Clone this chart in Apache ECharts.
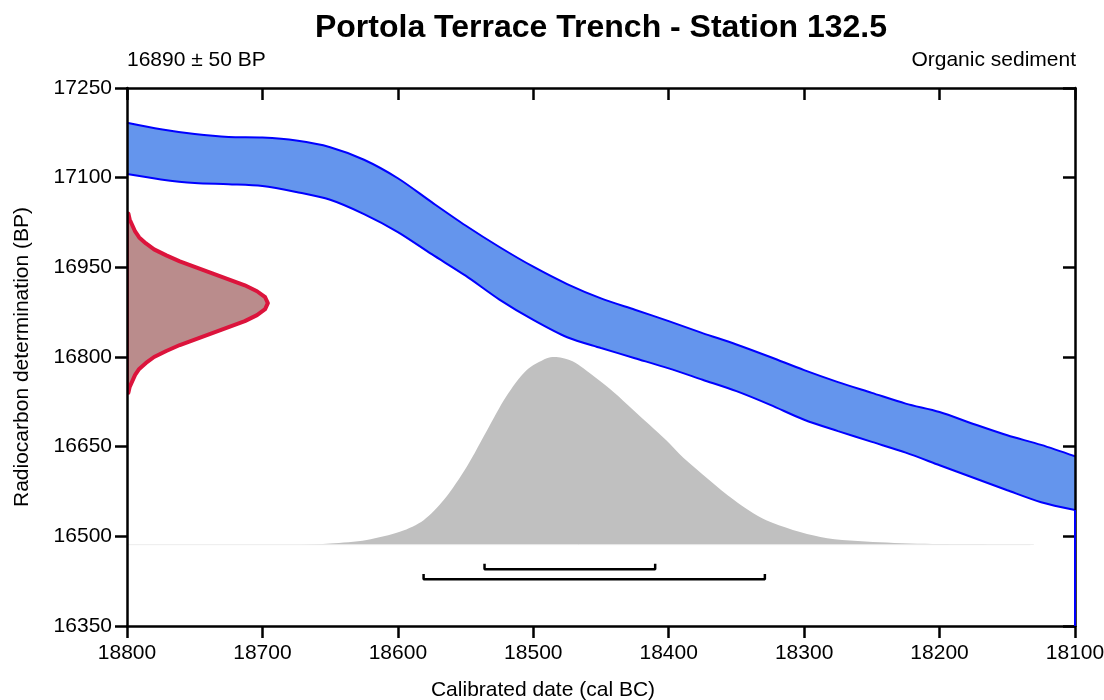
<!DOCTYPE html>
<html>
<head>
<meta charset="utf-8">
<script src="https://cdn.jsdelivr.net/npm/echarts@6/dist/echarts.min.js"></script>
<style>
html, body { margin: 0; padding: 0; background: #fff; }
#chart { width: 1104px; height: 700px; }
</style>
</head>
<body>
<div id="chart"></div>
<script>
// calibration curve band: cal BC with upper / lower edge in BP
const bandCal = [18800, 18775, 18750, 18725, 18700, 18675, 18650, 18625, 18600, 18575,
                 18550, 18525, 18500, 18475, 18450, 18425, 18400, 18375, 18350, 18325,
                 18300, 18275, 18250, 18225, 18200, 18175, 18150, 18125, 18100];
const bandUpper = [17192, 17181, 17173, 17168, 17167, 17162, 17151, 17130, 17099, 17059,
                   17020, 16984, 16951, 16922, 16898, 16879, 16860, 16840, 16821, 16800,
                   16778, 16758, 16740, 16722, 16708, 16688, 16669, 16653, 16634];
const bandLower = [17106, 17097, 17091, 17089, 17086, 17076, 17063, 17039, 17009, 16972,
                   16936, 16896, 16862, 16833, 16815, 16798, 16781, 16762, 16743, 16720,
                   16695, 16676, 16658, 16640, 16619, 16598, 16577, 16557, 16544];

// radiocarbon date distribution (drawn sideways on the y axis)
const redBP  = [17040, 17030, 17020, 17010, 17000, 16990, 16980, 16970, 16960, 16950,
                16940, 16930, 16920, 16910, 16900, 16890, 16880, 16870, 16860, 16850,
                16840, 16830, 16820, 16810, 16800, 16790, 16780, 16770, 16760, 16750, 16740];
const redCal = [18799, 18798, 18796, 18794, 18791, 18786, 18780, 18771, 18761, 18749,
                18737, 18725, 18713, 18704, 18698, 18696, 18698, 18704, 18713, 18725,
                18737, 18749, 18761, 18771, 18780, 18786, 18791, 18794, 18796, 18798, 18799];

// calibrated probability distribution
const grayCal = [18800, 18672, 18650, 18623, 18598, 18581, 18566, 18549, 18534, 18520,
                 18505, 18490, 18483, 18471, 18463, 18441, 18426, 18402, 18389, 18352,
                 18328, 18288, 18244, 18200, 18133];
const grayBP  = [16486, 16486, 16488, 16494, 16508, 16527, 16561, 16617, 16678, 16734,
                 16778, 16798, 16800, 16793, 16781, 16742, 16711, 16661, 16631, 16561,
                 16527, 16499, 16490, 16487, 16486];

// calibrated ranges (68.2% and 95.4%)
const rangeFrom = [18536, 18581];
const rangeTo   = [18410, 18329];
const rangeBP   = [16445, 16428];
const rangeCapBP = [16454, 16437];

const font = "Arial, 'Liberation Sans', sans-serif";

function redItem(params, api) {
    if (params.dataIndex !== 0) return null;
    let pts = redCal.map((c, i) => api.coord([c, redBP[i]]));
    pts.push(api.coord([18800, redBP[redBP.length - 1]]));
    pts.push(api.coord([18800, redBP[0]]));
    return {
        type: 'polygon',
        shape: {points: pts},
        style: {fill: '#BA8C8C', stroke: '#DC143C', lineWidth: 4, lineJoin: 'round'}
    };
}

function grayItem(params, api) {
    if (params.dataIndex !== 0) return null;
    let pts = grayCal.map((c, i) => api.coord([c, grayBP[i]]));
    return {
        type: 'polygon',
        shape: {points: pts, smooth: 0.3},
        style: {fill: '#C0C0C0'}
    };
}

let rangeSeries = rangeFrom.map((f, i) => ({
    type: 'line',
    data: [[f, rangeCapBP[i]], [f, rangeBP[i]], [rangeTo[i], rangeBP[i]], [rangeTo[i], rangeCapBP[i]]],
    symbol: 'none',
    lineStyle: {color: '#000', width: 2.5},
    z: 6
}));

function axisCommon(inside, showLabel, margin) {
    return {
        axisLine: {show: true, onZero: false, lineStyle: {color: '#000', width: 2.5}},
        axisTick: {show: true, inside: inside, length: 12, lineStyle: {color: '#000', width: 2.5}},
        axisLabel: {show: showLabel, color: '#000', fontSize: 21, fontFamily: font, margin: margin,
                    formatter: function (v) { return String(v); }},
        splitLine: {show: false},
        z: 10
    };
}

let chart = echarts.init(document.getElementById('chart'));
chart.setOption({
    animation: false,
    backgroundColor: '#fff',
    textStyle: {fontFamily: font},
    title: [
        {text: 'Portola Terrace Trench - Station 132.5', left: 601, top: 12, padding: 0, textAlign: 'center',
         textStyle: {fontSize: 32, fontWeight: 'bold', color: '#000', fontFamily: font}},
        {text: '16890 ± 50 BP', left: 127, top: 50, padding: 0,
         textStyle: {fontSize: 21, fontWeight: 'normal', color: '#000', fontFamily: font}},
        {text: 'Organic sediment', right: 28, top: 50, padding: 0,
         textStyle: {fontSize: 21, fontWeight: 'normal', color: '#000', fontFamily: font}},
        {text: 'Calibrated date (cal BC)', left: 543, top: 680, padding: 0, textAlign: 'center',
         textStyle: {fontSize: 21, fontWeight: 'normal', color: '#000', fontFamily: font}}
    ],
    grid: {left: 127, right: 29, top: 88, bottom: 74, outerBoundsMode: 'none', containLabel: false},
    xAxis: [
        Object.assign({type: 'value', position: 'bottom', min: 18100, max: 18800, interval: 100, inverse: true},
            axisCommon(false, true, 17)),
        Object.assign({type: 'value', position: 'top', min: 18100, max: 18800, interval: 100, inverse: true},
            axisCommon(true, false, 8))
    ],
    yAxis: [
        Object.assign({type: 'value', position: 'left', min: 16350, max: 17250, interval: 150,
            name: 'Radiocarbon determination (BP)', nameLocation: 'middle', nameGap: 94,
            nameTextStyle: {fontSize: 21, color: '#000', fontFamily: font}},
            axisCommon(false, true, 15)),
        Object.assign({type: 'value', position: 'right', min: 16350, max: 17250, interval: 150},
            axisCommon(true, false, 8))
    ],
    series: [
        // upper edge, filled down; the lower edge then masks below itself with white
        {type: 'line', symbol: 'none', smooth: 0.3, z: 2,
         data: bandCal.map((c, i) => [c, bandUpper[i]]),
         lineStyle: {color: '#0000FF', width: 2},
         areaStyle: {color: '#6495ED', opacity: 1, origin: 'start'}},
        {type: 'line', symbol: 'none', smooth: 0.3, z: 3,
         data: bandCal.map((c, i) => [c, bandLower[i]]),
         lineStyle: {color: '#0000FF', width: 2},
         areaStyle: {color: '#FFFFFF', opacity: 1, origin: 'start'}},
        // faint tail of the distribution along its baseline
        {type: 'line', symbol: 'none', z: 4, lineStyle: {color: '#ECECEC', width: 1},
         data: [[grayCal[0], grayBP[0]], [grayCal[grayCal.length - 1], grayBP[grayBP.length - 1]]]},
        {type: 'custom', renderItem: grayItem, clip: true, z: 4,
         data: grayCal.map((c, i) => [c, grayBP[i]])},
        {type: 'custom', renderItem: redItem, clip: true, z: 5,
         data: redCal.map((c, i) => [c, redBP[i]])},
        {type: 'line', symbol: 'none', z: 11, lineStyle: {color: '#0000FF', width: 2},
         data: [[18100, bandLower[bandLower.length - 1]], [18100, 16350]]}
    ].concat(rangeSeries)
});
</script>
</body>
</html>
